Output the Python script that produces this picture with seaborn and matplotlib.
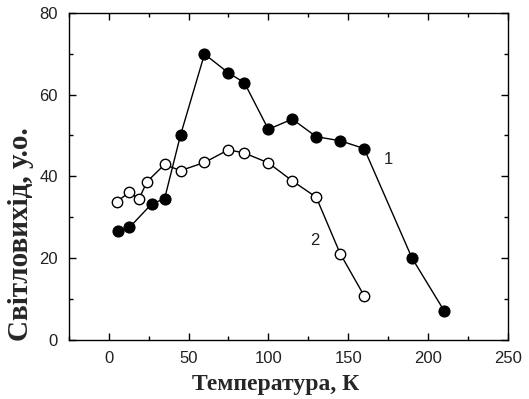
import numpy as np
import pandas as pd
import matplotlib
matplotlib.use("Agg")
import matplotlib.pyplot as plt
import seaborn as sns
from matplotlib.ticker import MultipleLocator

# curve 1 (filled circles)
temp1 = [6, 13, 27, 35, 45, 60, 75, 85, 100, 115, 130, 145, 160, 190, 210]
light1 = [26.7, 27.5, 33.3, 34.5, 50.1, 69.9, 65.3, 62.9, 51.5, 54.0, 49.7, 48.7, 46.8, 20.0, 7.2]

# curve 2 (open circles)
temp2 = [5, 13, 19, 24, 35, 45, 60, 75, 85, 100, 115, 130, 145, 160]
light2 = [33.8, 36.1, 34.5, 38.7, 42.9, 41.4, 43.4, 46.5, 45.7, 43.3, 38.9, 34.9, 21.1, 10.8]

curve_labels = ["1", "2"]

df1 = pd.DataFrame({"T": temp1, "L": light1})
df2 = pd.DataFrame({"T": temp2, "L": light2})

sns.set_style("ticks")
plt.rcParams["font.family"] = ["Liberation Sans", "DejaVu Sans"]

fig = plt.figure(figsize=(5.29, 3.99), dpi=100)
ax = fig.add_axes([0.130, 0.148, 0.830, 0.820])

sns.lineplot(data=df1, x="T", y="L", sort=False, ax=ax, color="black", lw=1,
             marker="o", markersize=8, markerfacecolor="black",
             markeredgecolor="black")
sns.lineplot(data=df2, x="T", y="L", sort=False, ax=ax, color="black", lw=1,
             marker="o", markersize=7.5, markerfacecolor="white",
             markeredgecolor="black", markeredgewidth=1)

ax.text(175, 44.2, curve_labels[0], fontsize=12, ha="center", va="center",
        color="#222222")
ax.text(129, 24.4, curve_labels[1], fontsize=12, ha="center", va="center",
        color="#222222")

ax.set_xlim(-25, 250)
ax.set_ylim(0, 80)
ax.xaxis.set_major_locator(MultipleLocator(50))
ax.xaxis.set_minor_locator(MultipleLocator(25))
ax.yaxis.set_major_locator(MultipleLocator(20))
ax.yaxis.set_minor_locator(MultipleLocator(10))
ax.tick_params(which="both", direction="in", top=True, right=True,
               labelsize=12, width=1, color="black", labelcolor="#222222")
ax.tick_params(which="major", length=5, pad=8)
ax.tick_params(which="minor", length=3)
for s in ax.spines.values():
    s.set_linewidth(1)
    s.set_color("black")

ax.set_xlabel("Температура, К", fontsize=17, fontweight="bold",
              family=["Liberation Serif", "DejaVu Serif"], va="center")
ax.xaxis.set_label_coords(0.471, -0.137)
ax.set_ylabel("Світловихід, у.о.", fontsize=21, fontweight="bold",
              family=["Liberation Serif", "DejaVu Serif"], va="center")
ax.yaxis.set_label_coords(-0.111, 0.324)

fig.savefig("out.png", dpi=100)
